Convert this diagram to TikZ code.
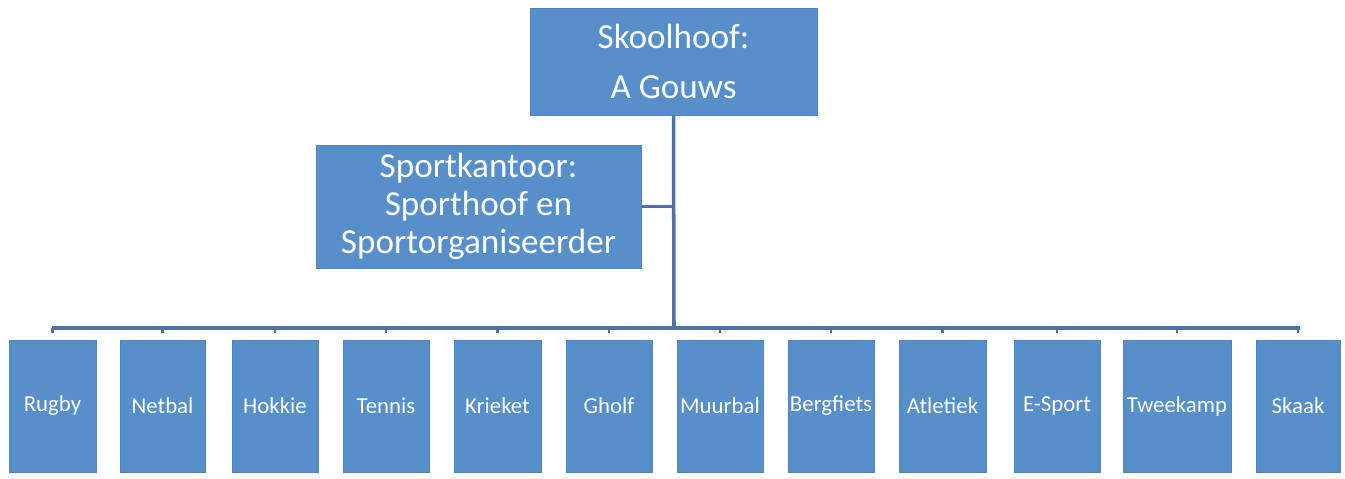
\documentclass[tikz,border=0pt]{standalone}
\usepackage{fontspec}
\setmainfont{Carlito}
\definecolor{boxblue}{RGB}{86,143,201}
\definecolor{boxedge}{RGB}{78,132,192}
\definecolor{linkblue}{RGB}{78,114,168}

\begin{document}
\begin{tikzpicture}[x=0.02cm,y=-0.02cm]
\tikzstyle{box}=[draw=boxedge,fill=boxblue,text=white,align=center,inner sep=2pt];
\tikzstyle{link}=[draw=linkblue,line width=2pt];
\useasboundingbox (0,0) rectangle (1345,479);

\node[box,minimum width=5.74cm,minimum height=2.14cm,font=\fontsize{20}{28.5}\selectfont] (hoof) at (673.5,61.5) {Skoolhoof:\\A Gouws};
\node[box,minimum width=6.5cm,minimum height=2.46cm,font=\fontsize{20}{21.8}\selectfont] (kantoor) at (478.5,206.5) {Sportkantoor:\\Sporthoof en\\Sportorganiseerder};

\coordinate (bus) at (674,328);
\coordinate (busL) at (52,328);
\coordinate (busR) at (1300,328);
\draw[link] (hoof.south) -- (bus);
\draw[link] (kantoor.east) -- (kantoor.east -| hoof.south);
\draw[link] (busL) -- (busR);

% sports
\foreach \naam/\x/\w [count=\i] in {Rugby/52.5/87,Netbal/162.5/85,Hokkie/275/86,Tennis/386/86,
  Krieket/497.5/87,Gholf/609/86,Muurbal/720/86,Bergfiets/831/86,
  Atletiek/942.5/87,E-Sport/1057/86,Tweekamp/1177/108,Skaak/1298/84}
{
  \node[box,minimum width=\w*0.02cm,minimum height=2.64cm,inner sep=1pt,font=\fontsize{13}{15}\selectfont] (sport\i) at (\x,406) {\naam};
  \coordinate (tak\i) at (\x,328);
  \draw[link,line width=1.5pt,shorten >=4pt] (tak\i) -- (sport\i.north);
}
\end{tikzpicture}
\end{document}
